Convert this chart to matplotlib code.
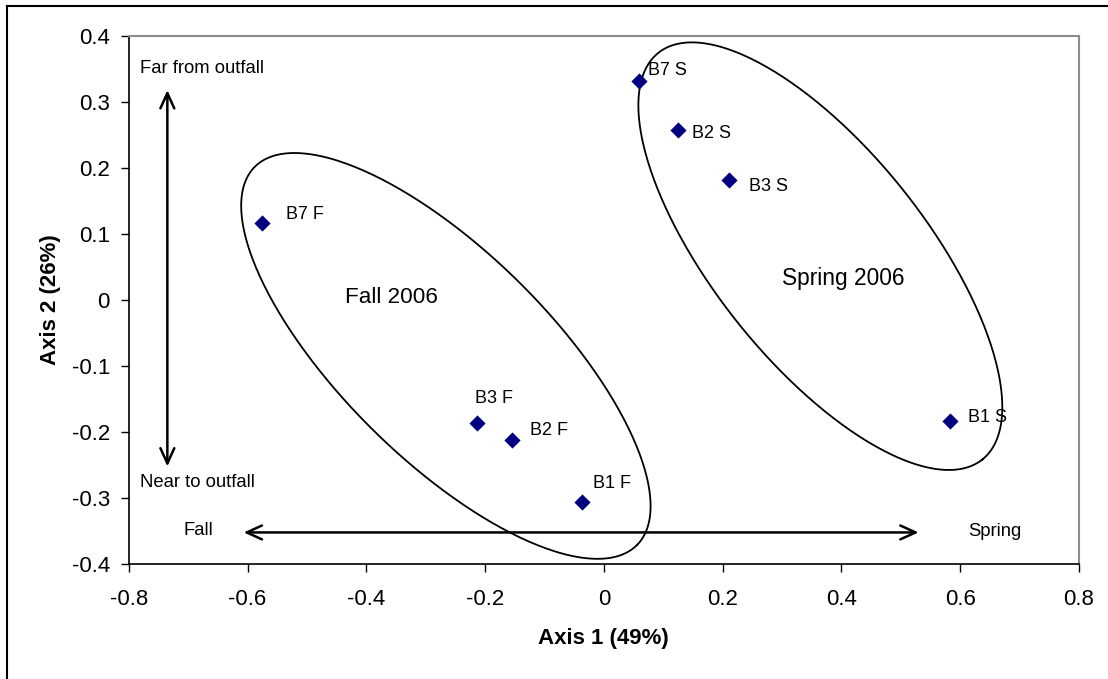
import numpy as np
import matplotlib
matplotlib.use("Agg")
import matplotlib.pyplot as plt
from matplotlib.lines import Line2D

plt.rcParams["font.family"] = ["Liberation Sans", "DejaVu Sans"]

# ordination scores
site_labels = ["B7 F", "B3 F", "B2 F", "B1 F", "B7 S", "B2 S", "B3 S", "B1 S"]
axis1 = [-0.575, -0.213, -0.155, -0.037, 0.060, 0.124, 0.211, 0.583]
axis2 = [0.117, -0.186, -0.213, -0.306, 0.332, 0.257, 0.181, -0.184]

# label offsets (pixels) as placed by hand in the original
label_offsets = [(24, 8), (-2, 24), (18, 10), (11, 18), (9, 10), (14, -3), (20, -6), (18, 4)]

x_ticks = [-0.8, -0.6, -0.4, -0.2, 0, 0.2, 0.4, 0.6, 0.8]
y_ticks = [-0.4, -0.3, -0.2, -0.1, 0, 0.1, 0.2, 0.3, 0.4]
x_tick_labels = ["-0.8", "-0.6", "-0.4", "-0.2", "0", "0.2", "0.4", "0.6", "0.8"]
y_tick_labels = ["-0.4", "-0.3", "-0.2", "-0.1", "0", "0.1", "0.2", "0.3", "0.4"]

# group ellipses: centre, half-axis vectors (data units)
fall_ell = dict(c=(-0.266, -0.085), u=(0.322, -0.2865), v=(0.123, 0.112))
spring_ell = dict(c=(0.3645, 0.0662), u=(0.2727, -0.3083), v=(0.1397, 0.100))

fig = plt.figure(figsize=(11.08, 6.79), dpi=100)
ax = fig.add_axes([0.1162, 0.1698, 0.8576, 0.7772])

ax.set_xlim(-0.8, 0.8)
ax.set_ylim(-0.4, 0.4)
ax.set_xticks(x_ticks)
ax.set_xticklabels(x_tick_labels)
ax.set_yticks(y_ticks)
ax.set_yticklabels(y_tick_labels)
ax.tick_params(axis="both", direction="out", length=6, width=1, labelsize=16)
ax.tick_params(axis="x", pad=12.5)
ax.tick_params(axis="y", pad=7.5)

for side in ["top", "right"]:
    ax.spines[side].set_color("#8c8c8c")
    ax.spines[side].set_linewidth(1.5)
for side in ["left", "bottom"]:
    ax.spines[side].set_color("black")
    ax.spines[side].set_linewidth(1.2)

ax.set_xlabel("Axis 1 (49%)", fontsize=16, fontweight="bold", labelpad=12.5)
ax.set_ylabel("Axis 2 (26%)", fontsize=16, fontweight="bold", labelpad=8)

# ellipses
t = np.linspace(0, 2 * np.pi, 400)
for e in [fall_ell, spring_ell]:
    ex = e["c"][0] + e["u"][0] * np.cos(t) + e["v"][0] * np.sin(t)
    ey = e["c"][1] + e["u"][1] * np.cos(t) + e["v"][1] * np.sin(t)
    ax.plot(ex, ey, color="black", lw=1.3, zorder=2)

ax.scatter(axis1, axis2, marker="D", s=68, color="#000080", zorder=3, linewidths=0)

for lab, x, y, off in zip(site_labels, axis1, axis2, label_offsets):
    ax.annotate(lab, (x, y), xytext=off, textcoords="offset pixels",
                fontsize=13, ha="left", va="center", zorder=4)

# gradient arrows
arrow_kw = dict(arrowstyle="<->,head_length=1.1,head_width=0.5", lw=1.8, color="black",
                shrinkA=0, shrinkB=0)
ax.annotate("", xy=(-0.735, 0.318), xytext=(-0.735, -0.2526), arrowprops=arrow_kw)
ax.annotate("", xy=(-0.6065, -0.3526), xytext=(0.530, -0.3526), arrowprops=arrow_kw)

ax.text(-0.781, 0.35, "Far from outfall", fontsize=13.3, ha="left", va="center")
ax.text(-0.781, -0.277, "Near to outfall", fontsize=13.3, ha="left", va="center")
ax.text(-0.708, -0.35, "Fall", fontsize=13.3, ha="left", va="center")
ax.text(0.614, -0.351, "Spring", fontsize=13.3, ha="left", va="center")
ax.text(-0.357, 0.004, "Fall 2006", fontsize=16.2, ha="center", va="center")
ax.text(0.403, 0.033, "Spring 2006", fontsize=16.4, ha="center", va="center")

# outer chart frame (partially cropped in original)
fig.add_artist(Line2D([6.5 / 1108, 6.5 / 1108], [0, 1 - 5.5 / 679],
                      transform=fig.transFigure, color="black", lw=1.5))
fig.add_artist(Line2D([6.5 / 1108, 1], [1 - 5.5 / 679, 1 - 5.5 / 679],
                      transform=fig.transFigure, color="black", lw=1.5))

fig.savefig("out.png", dpi=100)
